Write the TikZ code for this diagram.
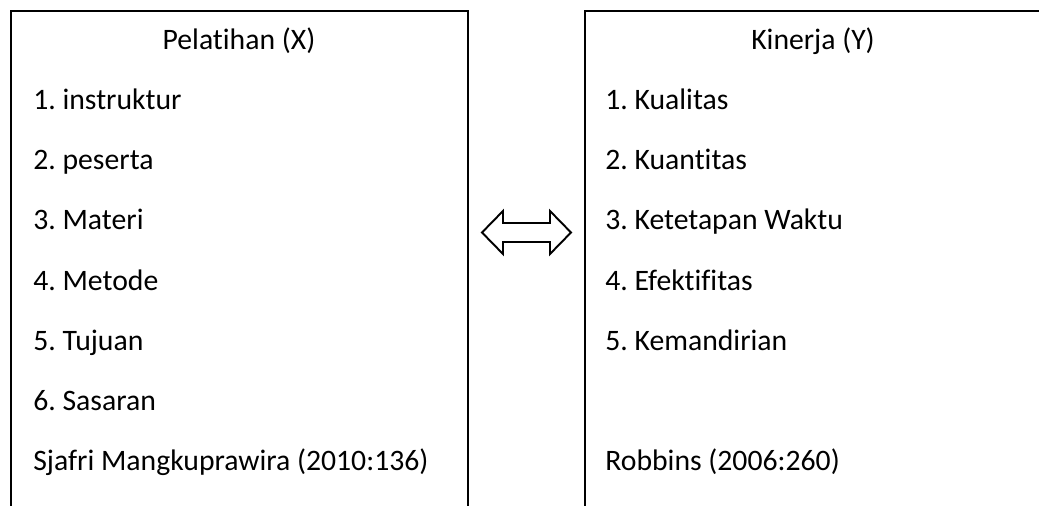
\documentclass[tikz,border=0pt]{standalone}
\usepackage{fontspec}
\setmainfont{Carlito}[Ligatures=NoCommon]
\usepackage{tikz}
\frenchspacing

\begin{document}
\begin{tikzpicture}[scale=0.2]
              \tikzstyle{every node}+=[inner sep=0pt, font=\fontsize{16.9}{20}\selectfont]
              \tikzstyle{item}=[anchor=base west]
              \tikzstyle{title}=[anchor=base]
              \useasboundingbox (0,0) rectangle (103.9,-50.6);
              % variabel X
              \draw [black, line width=1.1pt] (1.1,-50.6) -- (1.1,-1.1) -- (46.8,-1.1) -- (46.8,-50.6);
              \node [title] (judulx) at (23.9,-5) {Pelatihan (X)};
              \foreach \t [count=\i] in {1. instruktur, 2. peserta, 3. Materi, 4. Metode, 5. Tujuan, 6. Sasaran}
                \node [item] (x\i) at (3.3,{-5-6*\i}) {\t};
              \node [item] (sumberx) at (3.3,-47) {Sjafri Mangkuprawira (2010:136)};
              % variabel Y
              \draw [black, line width=1.1pt] (58.5,-50.6) -- (58.5,-1.1) -- (103.9,-1.1);
              \node [title] (juduly) at (81.3,-5) {Kinerja (Y)};
              \foreach \t [count=\i] in {1. Kualitas, 2. Kuantitas, 3. Ketetapan Waktu, 4. Efektifitas, 5. Kemandirian}
                \node [item] (y\i) at (60.5,{-5-6*\i}) {\t};
              \node [item] (sumbery) at (60.5,-47) {Robbins (2006:260)};
              % panah dua arah
              \coordinate (mid) at (52.65,-23.25);
              \draw [black, line width=1.1pt, shift={(mid)}] (-4.45,0) -- (-2.35,2.15) -- (-2.35,0.95) -- (2.35,0.95) -- (2.35,2.15)
                -- (4.45,0) -- (2.35,-2.15) -- (2.35,-0.95) -- (-2.35,-0.95) -- (-2.35,-2.15) -- cycle;
            \end{tikzpicture}
\end{document}
